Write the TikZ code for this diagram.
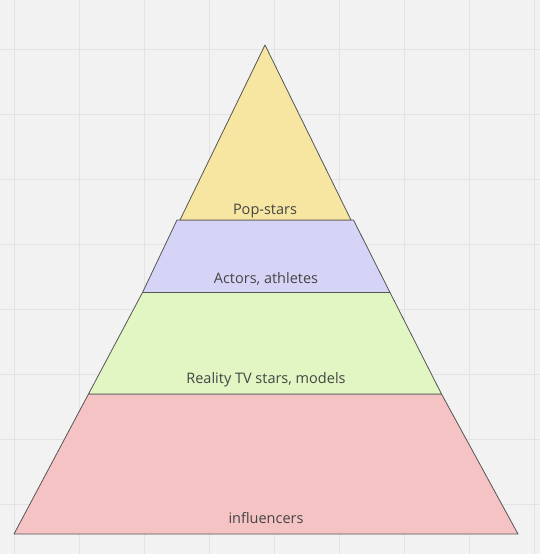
\documentclass[tikz,border=0pt]{standalone}
\usepackage{fontspec}
\setmainfont{Open Sans}
\definecolor{bg}{HTML}{F2F2F2}
\definecolor{gridc}{HTML}{E3E3E3}
\definecolor{edge}{HTML}{555555}
\definecolor{txt}{HTML}{454545}
\definecolor{yel}{HTML}{F7E6A1}
\definecolor{pur}{HTML}{D5D4F7}
\definecolor{grn}{HTML}{E1F6C3}
\definecolor{red}{HTML}{F5C3C3}
\tikzset{
  layer/.style={draw=edge, line width=0.8pt, line join=round},
  lbl/.style={text=txt, font=\fontsize{14.5}{16}\selectfont, inner sep=0pt, anchor=center}
}
\begin{document}
\begin{tikzpicture}[x=1pt,y=-1pt]
\useasboundingbox (0,0) rectangle (540,554);
\fill[bg] (0,0) rectangle (540,554);
\foreach \gx in {14,79,...,540} \draw[gridc, line width=1pt] (\gx,0) -- (\gx,554);
\foreach \gy in {49,114,...,554} \draw[gridc, line width=1pt] (0,\gy) -- (540,\gy);
% layers
\filldraw[layer, fill=red] (88.5,394) -- (441.5,394) -- (518,534) -- (14,534) -- cycle;
\filldraw[layer, fill=grn] (142.5,292.5) -- (390,292.5) -- (441.5,394) -- (88.5,394) -- cycle;
\filldraw[layer, fill=pur] (177,220) -- (353.5,220) -- (390,292.5) -- (142.5,292.5) -- cycle;
\filldraw[layer, fill=yel] (265,45) -- (351,220) -- (180,220) -- cycle;
% labels
\node[lbl] (pop) at (265,211) {Pop-stars};
\node[lbl] (act) at (266,279) {Actors, athletes};
\node[lbl] (rea) at (266,380) {Reality TV stars, models};
\node[lbl] (inf) at (266,518) {influencers};
\end{tikzpicture}
\end{document}
